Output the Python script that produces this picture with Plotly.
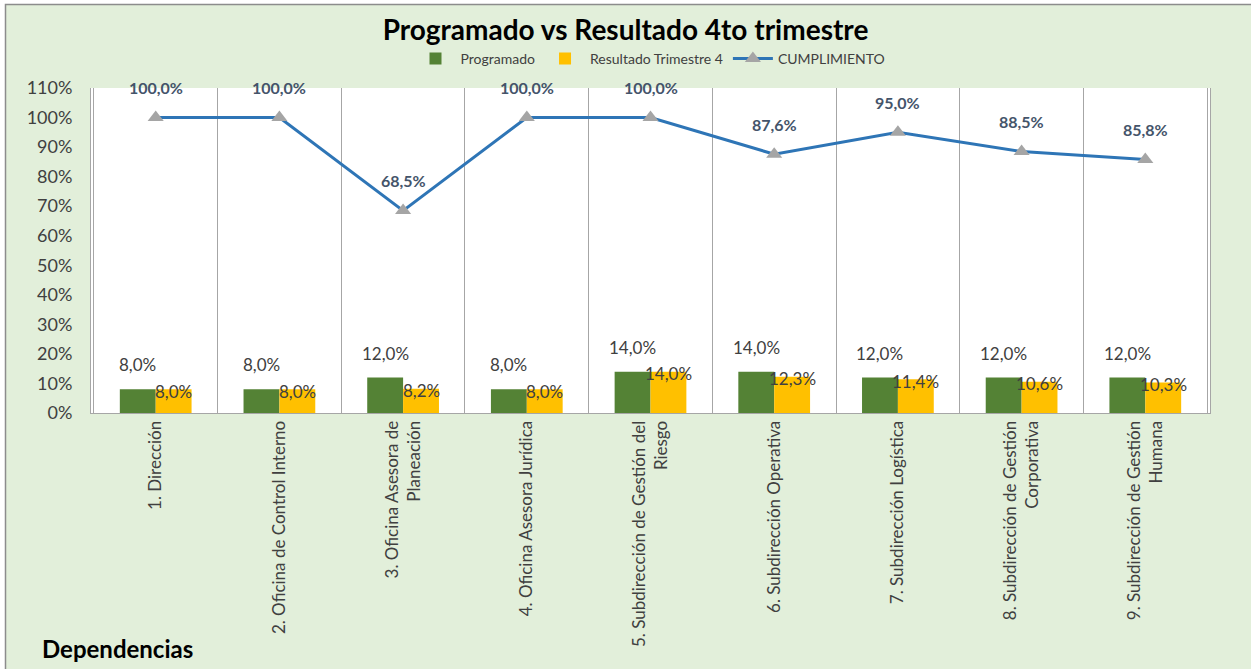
import plotly.graph_objects as go

categorias = [
    "1. Dirección",
    "2. Oficina de Control Interno",
    "3. Oficina Asesora de<br>Planeación",
    "4. Oficina Asesora Jurídica",
    "5. Subdirección de Gestión del<br>Riesgo",
    "6. Subdirección Operativa",
    "7. Subdirección Logística",
    "8. Subdirección de Gestión<br>Corporativa",
    "9. Subdirección de Gestión<br>Humana",
]
programado = [0.08, 0.08, 0.12, 0.08, 0.14, 0.14, 0.12, 0.12, 0.12]
resultado = [0.080, 0.080, 0.082, 0.080, 0.140, 0.123, 0.114, 0.106, 0.103]
cumplimiento = [1.000, 1.000, 0.685, 1.000, 1.000, 0.876, 0.950, 0.885, 0.858]
y_ticks = [i / 10 for i in range(12)]
y_tick_labels = [f"{i * 10}%" for i in range(12)]


def fmt(v):
    return f"{v * 100:.1f}%".replace(".", ",")


FONT = "Lato, 'Open Sans', sans-serif"
TXT = "#404040"
W, H = 1251, 669
L, R, T, B = 91, 41, 88, 256
PW, PH = W - L - R, H - T - B


def px_x(p):
    return (p - L) / PW


def px_y(p):
    return (H - B - p) / PH


fig = go.Figure()
fig.add_trace(go.Bar(x=categorias, y=programado, name="Programado",
                     marker=dict(color="#548235", line=dict(width=0))))
fig.add_trace(go.Bar(x=categorias, y=resultado, name="Resultado Trimestre 4",
                     marker=dict(color="#FFC000", line=dict(width=0))))
fig.add_trace(go.Scatter(x=categorias, y=cumplimiento, name="CUMPLIMIENTO",
                         mode="lines+markers",
                         line=dict(color="#2E75B6", width=3),
                         marker=dict(symbol="triangle-up", size=14, color="#A5A5A5")))

annotations = []
for c, p, r, k in zip(categorias, programado, resultado, cumplimiento):
    annotations.append(dict(x=c, y=p, xref="x", yref="y", text=fmt(p), showarrow=False,
                            xshift=-18, yshift=12, yanchor="bottom",
                            font=dict(size=17, color=TXT, family=FONT)))
    annotations.append(dict(x=c, y=r, xref="x", yref="y", text=fmt(r), showarrow=False,
                            xshift=18, yshift=-2, yanchor="middle",
                            font=dict(size=17, color=TXT, family=FONT)))
    annotations.append(dict(x=c, y=k, xref="x", yref="y", text=f"<b>{fmt(k)}</b>",
                            showarrow=False, yshift=30, yanchor="middle",
                            font=dict(size=16, color="#44546A", family=FONT)))
annotations.append(dict(x=px_x(40), y=px_y(648), xref="paper", yref="paper",
                        text="<b>Dependencias</b>",
                        showarrow=False, xanchor="left", yanchor="middle",
                        font=dict(size=24, color="#000000", family=FONT)))

shapes = [
    dict(type="rect", xref="paper", yref="paper", layer="below",
         x0=px_x(5.5), x1=px_x(1270), y0=px_y(690), y1=px_y(4.5),
         fillcolor="#E2EFDA", line=dict(color="#8C8C8C", width=1.5)),
    dict(type="rect", xref="paper", yref="paper", layer="below",
         x0=0, x1=1, y0=0, y1=1, fillcolor="#FFFFFF", line=dict(width=0)),
]

fig.update_layout(
    width=W, height=H,
    margin=dict(l=L, r=R, t=T, b=B),
    paper_bgcolor="#FFFFFF",
    plot_bgcolor="#FFFFFF",
    barmode="group", bargap=0.42, bargroupgap=0,
    title=dict(text="<b>Programado vs Resultado 4to trimestre</b>", x=0.5, xanchor="center",
               y=1 - 30 / H, yanchor="middle",
               font=dict(size=28, color="#000000", family=FONT)),
    legend=dict(orientation="h", x=0.5, xanchor="center", y=px_y(59), yanchor="middle",
                font=dict(size=14, color=TXT, family=FONT), bgcolor="rgba(0,0,0,0)",
                traceorder="normal", itemwidth=40),
    annotations=annotations,
    shapes=shapes,
    font=dict(family=FONT, color=TXT),
)
fig.update_xaxes(type="category", tickson="boundaries", showgrid=True, gridcolor="#A6A6A6",
                 gridwidth=1, tickangle=-90, showline=True, linecolor="#A6A6A6",
                 mirror=False, ticks="", tickfont=dict(size=17, color=TXT, family=FONT))
fig.update_yaxes(range=[0, 1.1], tickvals=y_ticks, ticktext=y_tick_labels, showgrid=False,
                 showline=True, linecolor="#A6A6A6", mirror=True, zeroline=False,
                 ticks="", ticklabelstandoff=14,
                 tickfont=dict(size=18, color=TXT, family=FONT))

fig.write_html("out.html", config={"displayModeBar": False},
               post_script="document.body.style.margin='0';")
